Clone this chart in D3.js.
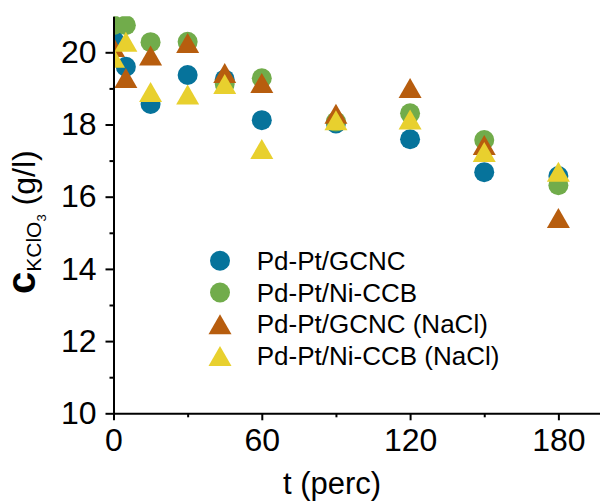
<!DOCTYPE html>
<html>
<head>
<meta charset="utf-8">
<script src="https://cdn.jsdelivr.net/npm/d3@7"></script>
<style>
  html, body { margin: 0; padding: 0; background: #fff; }
  svg { display: block; }
  text { font-family: "Liberation Sans", Arial, sans-serif; fill: #000; }
</style>
</head>
<body>
<svg id="chart" width="600" height="501"></svg>
<script>
// Sampling times (minutes)
const times = [0, 5, 15, 30, 45, 60, 90, 120, 150, 180];

// KClO3 concentration (g/l) for each electrode / electrolyte
const gcnc      = [20.35, 19.60, 18.57, 19.37, 19.25, 18.12, 18.03, 17.59, 16.68, 16.57];
const niCcb     = [20.75, 20.75, 20.28, 20.29, 19.12, 19.28, 18.08, 18.31, 17.57, 16.32];
const gcncNaCl  = [20.15, 19.29, 19.91, 20.26, 19.43, 19.15, 18.30, 19.01, 17.43, 15.41];
const niCcbNaCl = [19.85, 20.29, 18.90, 18.83, 19.12, 17.32, 18.12, 18.14, 17.24, 16.69];

const seriesNames  = ["Pd-Pt/GCNC", "Pd-Pt/Ni-CCB", "Pd-Pt/GCNC (NaCl)", "Pd-Pt/Ni-CCB (NaCl)"];
const seriesValues = [gcnc, niCcb, gcncNaCl, niCcbNaCl];
const seriesShapes = ["circle", "circle", "triangle", "triangle"];
const seriesColors = ["#06739b", "#71ac4b", "#b75d0e", "#e8d02e"];

// Axis ticks
const xMajorTicks = [0, 60, 120, 180];
const xMinorTicks = [30, 90, 150];
const yMajorTicks = [10, 12, 14, 16, 18, 20];
const yMinorTicks = [11, 13, 15, 17, 19];

const svg = d3.select("#chart");
const plot = { left: 113.5, right: 600.4, top: 16.2, bottom: 413.3 };

const x = d3.scaleLinear().domain([0, 197]).range([plot.left, plot.right]);
const y = d3.scaleLinear().domain([10, 21]).range([plot.bottom, plot.top]);

// Marker shapes: circle r=10, triangle 23 wide x 20 tall centred on its box
function markerPath(shape) {
  if (shape === "circle") return d3.symbol(d3.symbolCircle, Math.PI * 100)();
  return "M0,-10L11.5,10L-11.5,10Z";
}

svg.append("defs").append("clipPath").attr("id", "plotClip")
  .append("rect")
  .attr("x", plot.left).attr("y", plot.top)
  .attr("width", plot.right - plot.left).attr("height", plot.bottom - plot.top);

// Data markers
const marks = svg.append("g").attr("clip-path", "url(#plotClip)");
seriesValues.forEach((vals, i) => {
  marks.append("g").selectAll("path")
    .data(times.map((t, j) => ({ t, v: vals[j] })))
    .join("path")
    .attr("d", markerPath(seriesShapes[i]))
    .attr("transform", d => `translate(${x(d.t)},${y(d.v)})`)
    .attr("fill", seriesColors[i]);
});

// Axes
function styleAxis(g) {
  g.selectAll("path.domain").attr("stroke", "#000").attr("stroke-width", 2);
  g.selectAll(".tick line").attr("stroke", "#000").attr("stroke-width", 2);
  g.selectAll(".tick text")
    .style("font-family", "'Liberation Sans', Arial, sans-serif")
    .style("font-size", "32px")
    .attr("fill", "#000");
}

svg.append("g")
  .attr("transform", `translate(0,${plot.bottom})`)
  .call(d3.axisBottom(x).tickValues(xMinorTicks).tickSize(4).tickFormat(""))
  .call(g => g.select("path.domain").remove())
  .call(styleAxis);
svg.append("g")
  .attr("transform", `translate(0,${plot.bottom})`)
  .call(d3.axisBottom(x).tickValues(xMajorTicks).tickSizeInner(7).tickSizeOuter(0).tickPadding(8).tickFormat(d3.format("d")))
  .call(styleAxis);

svg.append("g")
  .attr("transform", `translate(${plot.left},0)`)
  .call(d3.axisLeft(y).tickValues(yMinorTicks).tickSize(4).tickFormat(""))
  .call(g => g.select("path.domain").remove())
  .call(styleAxis);
svg.append("g")
  .attr("transform", `translate(${plot.left},0)`)
  .call(d3.axisLeft(y).tickValues(yMajorTicks).tickSizeInner(8).tickSizeOuter(0).tickPadding(9).tickFormat(d3.format("d")))
  .call(styleAxis);

// Axis titles
svg.append("text")
  .attr("x", 332).attr("y", 494)
  .attr("text-anchor", "middle")
  .style("font-size", "31px")
  .text("t (perc)");

const yTitle = svg.append("text")
  .attr("transform", "translate(35,294) rotate(-90)")
  .attr("text-anchor", "start");
yTitle.append("tspan").style("font-size", "40px").style("font-weight", "bold").text("c");
yTitle.append("tspan").style("font-size", "21px").attr("dy", 6).text("KClO");
yTitle.append("tspan").style("font-size", "13px").attr("dy", 5).text("3");
yTitle.append("tspan").style("font-size", "32px").attr("dy", -11).text(" (g/l)");

// Legend
const legendY = [260.7, 292.5, 324.3, 356];
const legend = svg.append("g");
seriesNames.forEach((name, i) => {
  legend.append("path")
    .attr("d", markerPath(seriesShapes[i]))
    .attr("transform", `translate(220,${legendY[i]})`)
    .attr("fill", seriesColors[i]);
  legend.append("text")
    .attr("x", 256.7).attr("y", legendY[i] + 9)
    .style("font-size", "26px")
    .text(name);
});
</script>
</body>
</html>
